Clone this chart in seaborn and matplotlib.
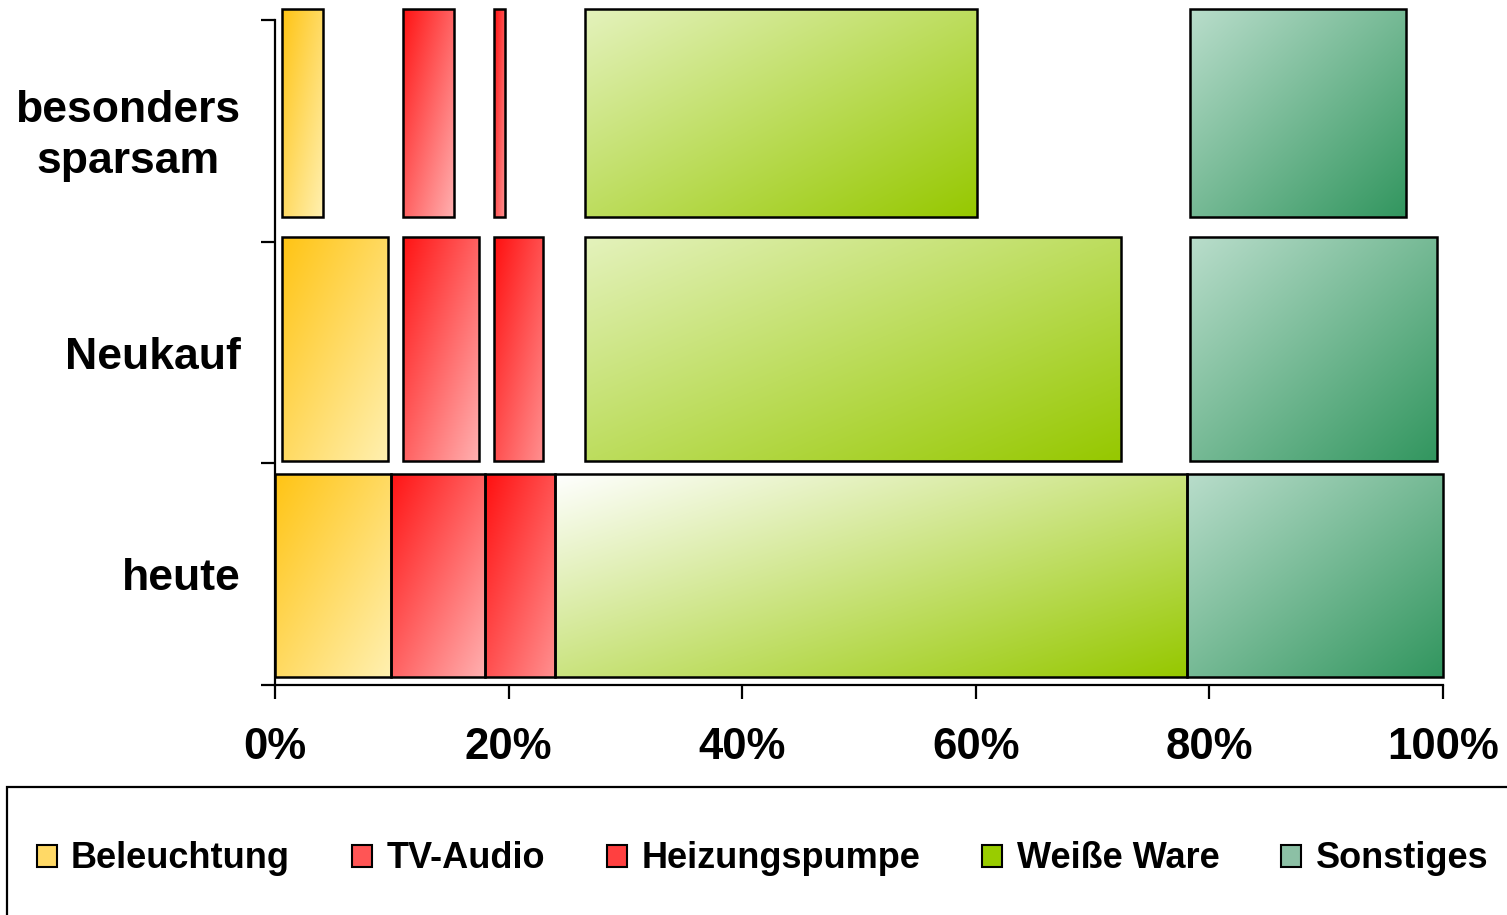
import numpy as np
import matplotlib
matplotlib.use("Agg")
import matplotlib.pyplot as plt
import matplotlib.colors as mcolors
from matplotlib.patches import Patch, Rectangle
import seaborn as sns

# ---------------- data ----------------
categories = ["heute", "Neukauf", "besonders\nsparsam"]
series = ["Beleuchtung", "TV-Audio", "Heizungspumpe", "Weiße Ware", "Sonstiges"]

# shares in % (heute is the stacked 100 % bar)
heute = [9.9, 8.1, 6.0, 54.1, 21.9]
neukauf = [9.1, 6.5, 4.2, 45.9, 21.2]
sparsam = [3.5, 4.35, 0.9, 33.6, 18.5]
# fixed left positions of the segments in the scenario rows (%)
scenario_starts = [0.6, 11.0, 18.75, 26.5, 78.3]

x_ticks = [0, 20, 40, 60, 80, 100]
x_tick_labels = ["0%", "20%", "40%", "60%", "80%", "100%"]

# ---------------- style ----------------
grad_start = ["#FFC414", "#FF1414", "#FF1010", "#E4F2BC", "#B9DDCB"]
grad_end = ["#FFF0B0", "#FFB0B0", "#FF9090", "#96C800", "#32965F"]
heute_ww_start = "#FFFFFF"
legend_colors = ["#FFD966", "#FF5555", "#FF4040", "#99CC00", "#8CC0A5"]

sns.set_theme(style="white")
plt.rcParams["font.family"] = ["Liberation Sans", "DejaVu Sans"]
plt.rcParams["font.weight"] = "bold"
plt.rcParams["text.color"] = "black"
plt.rcParams["xtick.color"] = "black"
plt.rcParams["ytick.color"] = "black"
plt.rcParams["axes.labelcolor"] = "black"

fig = plt.figure(figsize=(15.07, 9.15), dpi=100)
ax = fig.add_axes([275 / 1507, 1 - 685 / 915, (1443 - 275) / 1507, (685 - 9) / 915])

rows = [
    # (values, lefts, bottom, top)
    (heute, list(np.concatenate([[0], np.cumsum(heute)[:-1]])), 0.035, 0.952),
    (neukauf, scenario_starts, 1.012, 2.022),
    (sparsam, scenario_starts, 2.113, 3.048),
]

n = 96
u = np.linspace(0, 1, n)[None, :]
v = np.linspace(0, 1, n)[:, None]
tgrid = (u + v) / 2.0

for ri, (vals, lefts, b, t) in enumerate(rows):
    bars = ax.barh(y=(b + t) / 2, width=vals, left=lefts, height=t - b,
                   facecolor="none", edgecolor="black", linewidth=1.8,
                   zorder=3, clip_on=False)
    for si, patch in enumerate(bars.patches):
        c0 = heute_ww_start if (ri == 0 and si == 3) else grad_start[si]
        c0 = np.array(mcolors.to_rgb(c0))
        c1 = np.array(mcolors.to_rgb(grad_end[si]))
        img = c0[None, None, :] * (1 - tgrid[..., None]) + c1[None, None, :] * tgrid[..., None]
        x0 = lefts[si]
        x1 = lefts[si] + vals[si]
        im = ax.imshow(img, extent=(x0, x1, b, t), origin="upper",
                       aspect="auto", interpolation="bilinear", zorder=2)
        im.set_clip_path(patch)

ax.set_xlim(0, 100)
ax.set_ylim(0, 3.05)

# axes look
for side in ["top", "right"]:
    ax.spines[side].set_visible(False)
for side in ["left", "bottom"]:
    ax.spines[side].set_color("black")
    ax.spines[side].set_linewidth(1.6)
ax.spines["left"].set_bounds(0, 3)

ax.set_xticks(x_ticks)
ax.set_xticklabels(x_tick_labels, fontsize=31.5, fontweight="bold", color="black")
ax.tick_params(axis="x", which="major", direction="out", length=10, width=1.6,
               color="black", pad=20, bottom=True)

ax.set_yticks([0, 1, 2, 3])
ax.set_yticklabels([])
ax.set_yticks([0.5, 1.5, 2.52], minor=True)
ax.set_yticklabels(categories, minor=True, fontsize=32, fontweight="bold",
                   multialignment="center", color="black", linespacing=1.3)
ax.tick_params(axis="y", which="major", direction="out", length=10, width=1.6,
               color="black", left=True)
ax.tick_params(axis="y", which="minor", length=0, pad=25, left=True)
ax.grid(False)

# legend
handles = [Patch(facecolor=c, edgecolor="black", linewidth=1.5) for c in legend_colors]
leg = fig.legend(handles, series, loc="center", bbox_to_anchor=(0.506, 1 - 859 / 915),
                 ncol=5, frameon=False, prop={"size": 26, "weight": "bold"},
                 handlelength=0.55, handleheight=0.55, handletextpad=0.4,
                 columnspacing=1.72)
for txt in leg.get_texts():
    txt.set_color("black")
fig.patches.append(Rectangle((7 / 1507, -0.02), 1.2, (915 - 787) / 915 + 0.02,
                             transform=fig.transFigure, facecolor="none",
                             edgecolor="black", linewidth=1.6))

fig.savefig("out.png", dpi=100)
